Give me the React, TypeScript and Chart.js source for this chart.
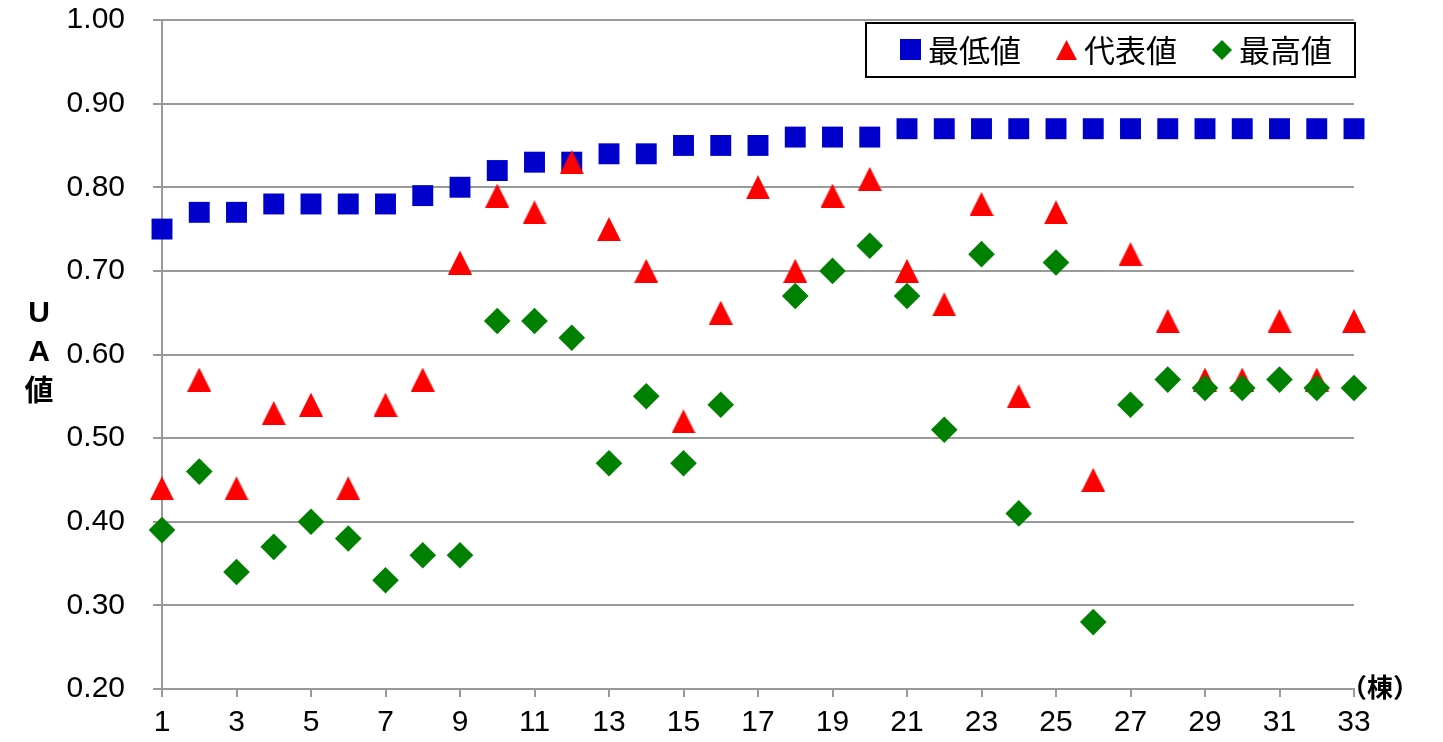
import React, { useEffect, useRef } from 'react';
import { Chart, registerables } from 'chart.js';

Chart.register(...registerables);

// ---- data ----
const buildings: number[] = [
  1, 2, 3, 4, 5, 6, 7, 8, 9, 10, 11, 12, 13, 14, 15, 16, 17,
  18, 19, 20, 21, 22, 23, 24, 25, 26, 27, 28, 29, 30, 31, 32, 33,
];
const minValues: number[] = [
  0.75, 0.77, 0.77, 0.78, 0.78, 0.78, 0.78, 0.79, 0.80, 0.82, 0.83, 0.83, 0.84, 0.84, 0.85, 0.85, 0.85,
  0.86, 0.86, 0.86, 0.87, 0.87, 0.87, 0.87, 0.87, 0.87, 0.87, 0.87, 0.87, 0.87, 0.87, 0.87, 0.87,
];
const repValues: number[] = [
  0.44, 0.57, 0.44, 0.53, 0.54, 0.44, 0.54, 0.57, 0.71, 0.79, 0.77, 0.83, 0.75, 0.70, 0.52, 0.65, 0.80,
  0.70, 0.79, 0.81, 0.70, 0.66, 0.78, 0.55, 0.77, 0.45, 0.72, 0.64, 0.57, 0.57, 0.64, 0.57, 0.64,
];
const maxValues: (number | null)[] = [
  0.39, 0.46, 0.34, 0.37, 0.40, 0.38, 0.33, 0.36, 0.36, 0.64, 0.64, 0.62, 0.47, 0.55, 0.47, 0.54, null,
  0.67, 0.70, 0.73, 0.67, 0.51, 0.72, 0.41, 0.71, 0.28, 0.54, 0.57, 0.56, 0.56, 0.57, 0.56, 0.56,
];
const seriesNames: string[] = ['最低値', '代表値', '最高値'];
const yAxisTitleChars: string[] = ['U', 'A', '値'];
const xUnitLabel = '（棟）';
const yMin = 0.2;
const yMax = 1.0;
const yStep = 0.1;
const xStep = 2;

const BLUE = '#0000CC';
const RED = '#FF0000';
const GREEN = '#008000';
const GRID = '#9a9a9a';

function makeTriangle(w: number, h: number, color: string): HTMLCanvasElement {
  const c = document.createElement('canvas');
  c.width = w;
  c.height = h;
  const ctx = c.getContext('2d')!;
  ctx.fillStyle = color;
  ctx.beginPath();
  ctx.moveTo(w / 2, 0);
  ctx.lineTo(w, h);
  ctx.lineTo(0, h);
  ctx.closePath();
  ctx.fill();
  return c;
}

const extrasPlugin = {
  id: 'extras',
  afterDraw(chart: any) {
    const ctx: CanvasRenderingContext2D = chart.ctx;
    ctx.save();
    // legend box
    ctx.fillStyle = '#ffffff';
    ctx.fillRect(866, 23, 489, 54);
    ctx.strokeStyle = '#000000';
    ctx.lineWidth = 2;
    ctx.strokeRect(866, 23, 489, 54);
    // markers
    ctx.fillStyle = BLUE;
    ctx.fillRect(900, 39, 21, 21);
    ctx.fillStyle = RED;
    ctx.beginPath();
    ctx.moveTo(1066.5, 40);
    ctx.lineTo(1077, 60);
    ctx.lineTo(1056, 60);
    ctx.closePath();
    ctx.fill();
    ctx.fillStyle = GREEN;
    ctx.beginPath();
    ctx.moveTo(1222, 40);
    ctx.lineTo(1232, 50);
    ctx.lineTo(1222, 60);
    ctx.lineTo(1212, 50);
    ctx.closePath();
    ctx.fill();
    // texts
    ctx.fillStyle = '#000000';
    ctx.font = '31px "Noto Sans CJK JP"';
    ctx.textBaseline = 'middle';
    ctx.textAlign = 'left';
    ctx.fillText(seriesNames[0], 928, 50);
    ctx.fillText(seriesNames[1], 1084, 50);
    ctx.fillText(seriesNames[2], 1239, 50);

    // y axis title (stacked)
    ctx.textAlign = 'center';
    const ys = [314, 353, 390];
    yAxisTitleChars.forEach((ch, i) => {
      ctx.font = /[A-Za-z]/.test(ch)
        ? 'bold 30px "Liberation Sans"'
        : 'bold 29px "Noto Sans CJK JP"';
      ctx.fillText(ch, 39, ys[i]);
    });

    // x unit
    ctx.font = 'bold 26px "Noto Sans CJK JP"';
    ctx.fillText(xUnitLabel, 1380, 687);
    ctx.restore();
  },
};

export default function App() {
  const ref = useRef<HTMLCanvasElement | null>(null);

  useEffect(() => {
    document.body.style.margin = '0';
    const canvas = ref.current!;
    const tri = makeTriangle(24, 24, RED);
    const toPts = (vals: (number | null)[]) =>
      buildings.map((b, i) => ({ x: b, y: vals[i] }));

    const chart = new Chart(canvas, {
      type: 'scatter',
      data: {
        datasets: [
          {
            label: seriesNames[0],
            data: toPts(minValues),
            pointStyle: 'rect',
            radius: 14.8,
            borderWidth: 0,
            backgroundColor: BLUE,
            borderColor: BLUE,
            order: 3,
            clip: false,
          },
          {
            label: seriesNames[1],
            data: toPts(repValues),
            pointStyle: tri as any,
            radius: 12,
            borderWidth: 0,
            backgroundColor: RED,
            borderColor: RED,
            order: 2,
            clip: false,
          },
          {
            label: seriesNames[2],
            data: toPts(maxValues),
            pointStyle: 'rectRot',
            radius: 13.3,
            borderWidth: 0,
            backgroundColor: GREEN,
            borderColor: GREEN,
            order: 1,
            clip: false,
          },
        ] as any,
      },
      options: {
        responsive: false,
        animation: false,
        devicePixelRatio: 1,
        layout: { autoPadding: false, padding: { left: 0, top: 20, right: 89, bottom: 0 } },
        plugins: {
          legend: { display: false },
          tooltip: { enabled: false },
        },
        scales: {
          x: {
            type: 'linear',
            min: 1,
            max: 33,
            afterFit: (s: any) => {
              s.height = 53;
            },
            ticks: {
              stepSize: xStep,
              color: '#000',
              font: { family: '"Liberation Sans", Arial', size: 30 },
              padding: 8,
              maxRotation: 0,
              autoSkip: false,
            },
            grid: {
              drawOnChartArea: false,
              drawTicks: true,
              tickLength: 8,
              color: GRID,
              lineWidth: 2,
            },
            border: { display: true, color: GRID, width: 2 },
          },
          y: {
            type: 'linear',
            min: yMin,
            max: yMax,
            afterFit: (s: any) => {
              s.width = 162;
              s.paddingTop = 0;
              s.paddingBottom = 0;
            },
            ticks: {
              stepSize: yStep,
              color: '#000',
              font: { family: '"Liberation Sans", Arial', size: 30 },
              padding: 28,
              callback: (v: any) => Number(v).toFixed(2),
            },
            grid: {
              drawOnChartArea: true,
              drawTicks: true,
              tickLength: 9,
              color: GRID,
              lineWidth: 2,
            },
            border: { display: true, color: GRID, width: 2 },
          },
        },
      },
      plugins: [extrasPlugin],
    });
    return () => chart.destroy();
  }, []);

  return (
    <div style={{ width: 1443, height: 742, position: 'relative' }}>
      <canvas ref={ref} width={1443} height={742} style={{ display: 'block' }} />
    </div>
  );
}
